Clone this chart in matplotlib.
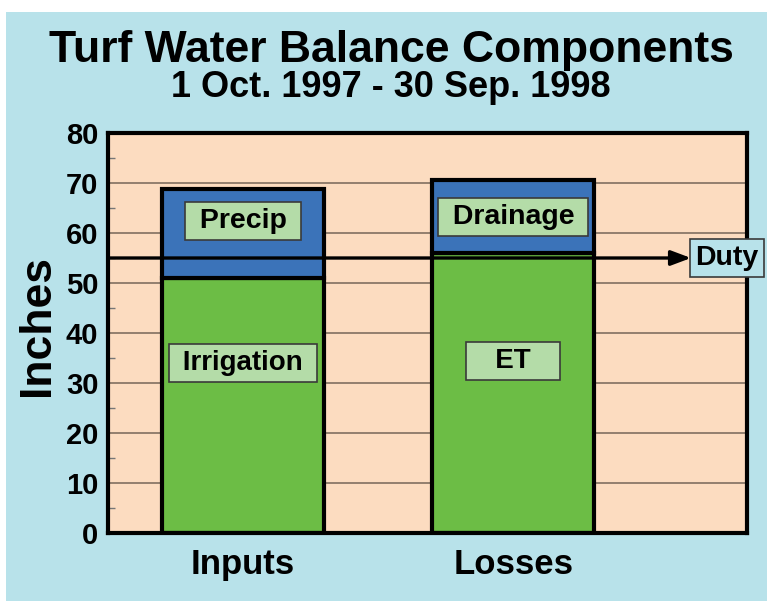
import matplotlib.pyplot as plt
from matplotlib.patches import Rectangle

# data
categories = ["Inputs", "Losses"]
lower_labels = ["Irrigation", "ET"]
upper_labels = ["Precip", "Drainage"]
lower_vals = [51.0, 56.0]
upper_vals = [17.8, 14.6]
duty = 55
lower_label_y = [34.0, 34.4]
upper_label_y = [62.4, 63.2]

bg = "#b8e2ea"
peach = "#fcdcc0"
green = "#6cbd45"
blue = "#3b73b9"
box_green = "#b4dca8"

plt.rcParams["font.family"] = ["Liberation Sans", "DejaVu Sans"]
plt.rcParams["font.weight"] = "bold"

fig = plt.figure(figsize=(7.67, 6.01), dpi=100, facecolor="white")
fig.patches.append(Rectangle((6 / 767, 0), 1, 1 - 12 / 601, transform=fig.transFigure,
                             facecolor=bg, edgecolor="none", zorder=-10))

ax = fig.add_axes([108 / 767, 1 - 533 / 601, 639 / 767, 400 / 601])
ax.set_facecolor(peach)

x = list(range(len(categories)))
ax.bar(x, lower_vals, width=0.6, color=green, edgecolor="black", linewidth=3, zorder=3)
ax.bar(x, upper_vals, width=0.6, bottom=lower_vals, color=blue, edgecolor="black",
       linewidth=3, zorder=3)

box = dict(boxstyle="square,pad=0.22", facecolor=box_green, edgecolor="#3a3a3a", linewidth=1.2)
for i in x:
    pad = " " if len(lower_labels[i]) > 3 else "   "
    ax.text(i, lower_label_y[i], pad + lower_labels[i] + pad, ha="center", va="center",
            fontsize=20, fontweight="bold", bbox=box, zorder=5)
    ax.text(i, upper_label_y[i], " " + upper_labels[i] + " ", ha="center", va="center",
            fontsize=20.5, fontweight="bold", bbox=box, zorder=5)

ax.set_xlim(-0.5, 1.865)
ax.set_ylim(0, 80)
ax.set_yticks(range(0, 81, 10))
ax.set_yticks(range(5, 80, 10), minor=True)
ax.yaxis.grid(True, which="major", color="#8a7868", linewidth=1.3, zorder=0)
ax.set_axisbelow(True)
ax.tick_params(axis="y", which="major", length=0, pad=7, labelsize=21)
ax.tick_params(axis="y", which="minor", direction="in", length=5, color="#777777", width=1)
ax.set_xticks(x)
ax.set_xticklabels(categories, fontsize=25, fontweight="bold")
ax.tick_params(axis="x", length=0, pad=11)
for lab in ax.get_yticklabels():
    lab.set_fontweight("bold")
for s in ax.spines.values():
    s.set_linewidth(3)
    s.set_zorder(6)

# duty line with arrow
ax.annotate("", xy=(691 / 767, duty), xycoords=("figure fraction", "data"),
            xytext=(0, duty), textcoords=("axes fraction", "data"),
            arrowprops=dict(arrowstyle="-|>,head_length=1.2,head_width=0.45",
                            color="black", linewidth=2.4, shrinkA=0, shrinkB=0),
            zorder=7, annotation_clip=False)
ax.annotate("Duty", xy=(727 / 767, duty), xycoords=("figure fraction", "data"),
            ha="center", va="center", fontsize=20.5, fontweight="bold",
            bbox=dict(boxstyle="square,pad=0.2", facecolor=bg, edgecolor="#3a3a3a",
                      linewidth=1.2), annotation_clip=False, zorder=7)

fig.text(391 / 767, 1 - 62 / 601, "Turf Water Balance Components", ha="center",
         va="baseline", fontsize=32, fontweight="bold")
fig.text(391 / 767, 1 - 97 / 601, "1 Oct. 1997 - 30 Sep. 1998", ha="center",
         va="baseline", fontsize=26, fontweight="bold")
fig.text(37 / 767, 1 - 325 / 601, "Inches", ha="center", va="center", rotation=90,
         fontsize=32, fontweight="bold")

fig.savefig("out.png", dpi=100, facecolor="white")
